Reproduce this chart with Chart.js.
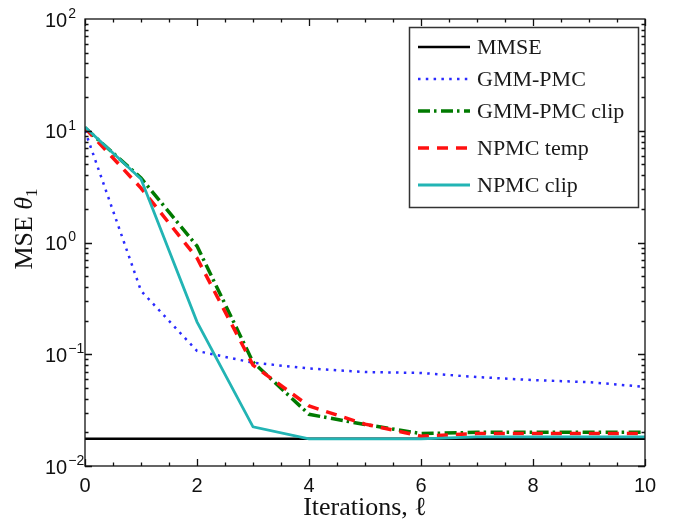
<!DOCTYPE html>
<html><head><meta charset="utf-8">
<script src="https://cdn.jsdelivr.net/npm/chart.js@4.4.0/dist/chart.umd.min.js"></script>
<style>html,body{margin:0;padding:0;background:#fff}#wrap{width:681px;height:528px;position:relative}</style>
</head><body><div id="wrap"><canvas id="c" width="681" height="528"></canvas></div>
<script>
// ---- data ----
const iterations = [0, 1, 2, 3, 4, 5, 6, 7, 8, 9, 10];
const seriesNames = ['MMSE', 'GMM-PMC', 'GMM-PMC clip', 'NPMC temp', 'NPMC clip'];
const mmse        = [0.0175, 0.0175, 0.0175, 0.0175, 0.0175, 0.0175, 0.0175, 0.0175, 0.0175, 0.0175, 0.0175];
const gmmPmc      = [10.0, 0.37, 0.107, 0.084, 0.0746, 0.0693, 0.068, 0.0625, 0.0587, 0.0563, 0.051];
const gmmPmcClip  = [10.6, 3.78, 0.93, 0.085, 0.029, 0.0235, 0.0195, 0.0200, 0.0200, 0.0200, 0.0200];
const npmcTemp    = [10.6, 3.07, 0.726, 0.080, 0.0344, 0.0237, 0.0185, 0.0195, 0.0195, 0.0195, 0.0195];
const npmcClip    = [10.8, 3.7, 0.195, 0.0224, 0.0175, 0.0175, 0.0175, 0.0182, 0.0182, 0.0182, 0.0182];
const xTickValues = [0, 2, 4, 6, 8, 10];
const yTickExponents = [-2, -1, 0, 1, 2];
const xTitle = 'Iterations, \u2113';

const seriesValues = [mmse, gmmPmc, gmmPmcClip, npmcTemp, npmcClip];
const seriesStyle = [
  {color:'#000000', width:2.5, dash:[]},
  {color:'#2a2aff', width:2.5, dash:[2.5,5.3]},
  {color:'#007a00', width:3.5, dash:[12,4,2.5,4.5]},
  {color:'#ff1010', width:3.5, dash:[11,8]},
  {color:'#22b4b4', width:2.8, dash:[]}
];

const datasets = seriesNames.map((name, i) => ({
  label: name,
  data: iterations.map((x, k) => ({x: x, y: seriesValues[i][k]})),
  borderColor: seriesStyle[i].color,
  backgroundColor: seriesStyle[i].color,
  borderWidth: seriesStyle[i].width,
  borderDash: seriesStyle[i].dash,
  borderCapStyle: 'butt',
  pointRadius: 0,
  tension: 0,
  fill: false,
  order: seriesNames.length - i
}));

const SANS = "'Liberation Sans', Arial, sans-serif";
const SERIF = "'Liberation Serif', 'Times New Roman', serif";

const framePlugin = {
  id: 'frame',
  afterDatasetsDraw(chart) {
    const {ctx, chartArea: a, scales: {x, y}} = chart;
    ctx.save();
    ctx.strokeStyle = '#111';
    ctx.lineWidth = 1.3;
    ctx.strokeRect(a.left, a.top, a.right - a.left, a.bottom - a.top);
    ctx.beginPath();
    // x ticks
    for (let v = 0; v <= 10 + 1e-9; v += 0.5) {
      const px = Math.round(x.getPixelForValue(v)) + 0.5;
      const major = xTickValues.includes(v);
      const L = major ? 7 : 3.5;
      ctx.moveTo(px, a.bottom); ctx.lineTo(px, a.bottom - L);
      ctx.moveTo(px, a.top); ctx.lineTo(px, a.top + L);
    }
    // y ticks
    for (let e = -2; e < 2; e++) {
      for (let m = 1; m <= 9; m++) {
        const v = m * Math.pow(10, e);
        const py = Math.round(y.getPixelForValue(v)) + 0.5;
        const L = m === 1 ? 7 : 3.5;
        ctx.moveTo(a.left, py); ctx.lineTo(a.left + L, py);
        ctx.moveTo(a.right, py); ctx.lineTo(a.right - L, py);
      }
    }
    ctx.stroke();
    // y tick labels 10^e
    ctx.fillStyle = '#111';
    ctx.textBaseline = 'middle';
    ctx.textAlign = 'left';
    yTickExponents.forEach(e => {
      const py = y.getPixelForValue(Math.pow(10, e));
      ctx.font = '20px ' + SANS;
      const w = ctx.measureText('10').width;
      ctx.fillText('10', 45, py + 2);
      ctx.font = '14px ' + SANS;
      ctx.fillText(e < 0 ? '\u2212' + Math.abs(e) : String(e), 45 + w + 1, py - 5);
    });
    // y title: MSE θ1 rotated
    ctx.save();
    ctx.translate(32, 229);
    ctx.rotate(-Math.PI / 2);
    ctx.textBaseline = 'alphabetic';
    const parts = [
      {t: 'MSE ', f: '26px ' + SERIF, dy: 0},
      {t: '\u03b8', f: 'italic 26px ' + SERIF, dy: 0},
      {t: '1', f: '17px ' + SERIF, dy: 5}
    ];
    let total = 0;
    parts.forEach(p => { ctx.font = p.f; p.w = ctx.measureText(p.t).width; total += p.w; });
    let cx = -total / 2;
    parts.forEach(p => { ctx.font = p.f; ctx.fillText(p.t, cx, p.dy); cx += p.w; });
    ctx.restore();
    ctx.restore();
  }
};

const legendRows = [47, 79, 111, 148, 185];
const legendPlugin = {
  id: 'insideLegend',
  afterDraw(chart) {
    const ctx = chart.ctx;
    ctx.save();
    ctx.fillStyle = '#fff';
    ctx.fillRect(409, 27, 229, 180);
    ctx.strokeStyle = '#333';
    ctx.lineWidth = 1.5;
    ctx.strokeRect(409.5, 27.5, 229, 180);
    chart.data.datasets.forEach((ds, i) => {
      const yy = legendRows[i];
      ctx.beginPath();
      ctx.strokeStyle = ds.borderColor;
      ctx.lineWidth = ds.borderWidth;
      ctx.setLineDash(ds.borderDash);
      ctx.lineCap = 'butt';
      ctx.moveTo(418, yy); ctx.lineTo(470, yy);
      ctx.stroke();
      ctx.setLineDash([]);
      ctx.fillStyle = '#1a1a1a';
      ctx.font = '22px ' + SERIF;
      ctx.textBaseline = 'middle';
      ctx.textAlign = 'left';
      ctx.fillText(ds.label, 477, yy + 1);
    });
    ctx.restore();
  }
};

new Chart(document.getElementById('c').getContext('2d'), {
  type: 'line',
  data: {datasets: datasets},
  options: {
    responsive: false,
    animation: false,
    devicePixelRatio: 1,
    layout: {padding: {left: 0, right: 36, top: 19, bottom: 0}},
    plugins: {legend: {display: false}, tooltip: {enabled: false}},
    scales: {
      x: {
        type: 'linear', min: 0, max: 10,
        grid: {display: false, drawTicks: false},
        border: {display: false},
        afterBuildTicks(s) { s.ticks = xTickValues.map(v => ({value: v})); },
        ticks: {font: {family: SANS, size: 20}, color: '#111', padding: 8, maxRotation: 0, autoSkip: false},
        title: {display: true, text: xTitle, font: {family: SERIF, size: 26}, color: '#111', padding: {top: 0, bottom: 4}},
        afterFit(s) { s.height = 62; }
      },
      y: {
        type: 'logarithmic', min: 0.01, max: 100,
        grid: {display: false, drawTicks: false},
        border: {display: false},
        ticks: {display: false},
        afterFit(s) { s.width = 85; }
      }
    }
  },
  plugins: [framePlugin, legendPlugin]
});
</script>
</body></html>
